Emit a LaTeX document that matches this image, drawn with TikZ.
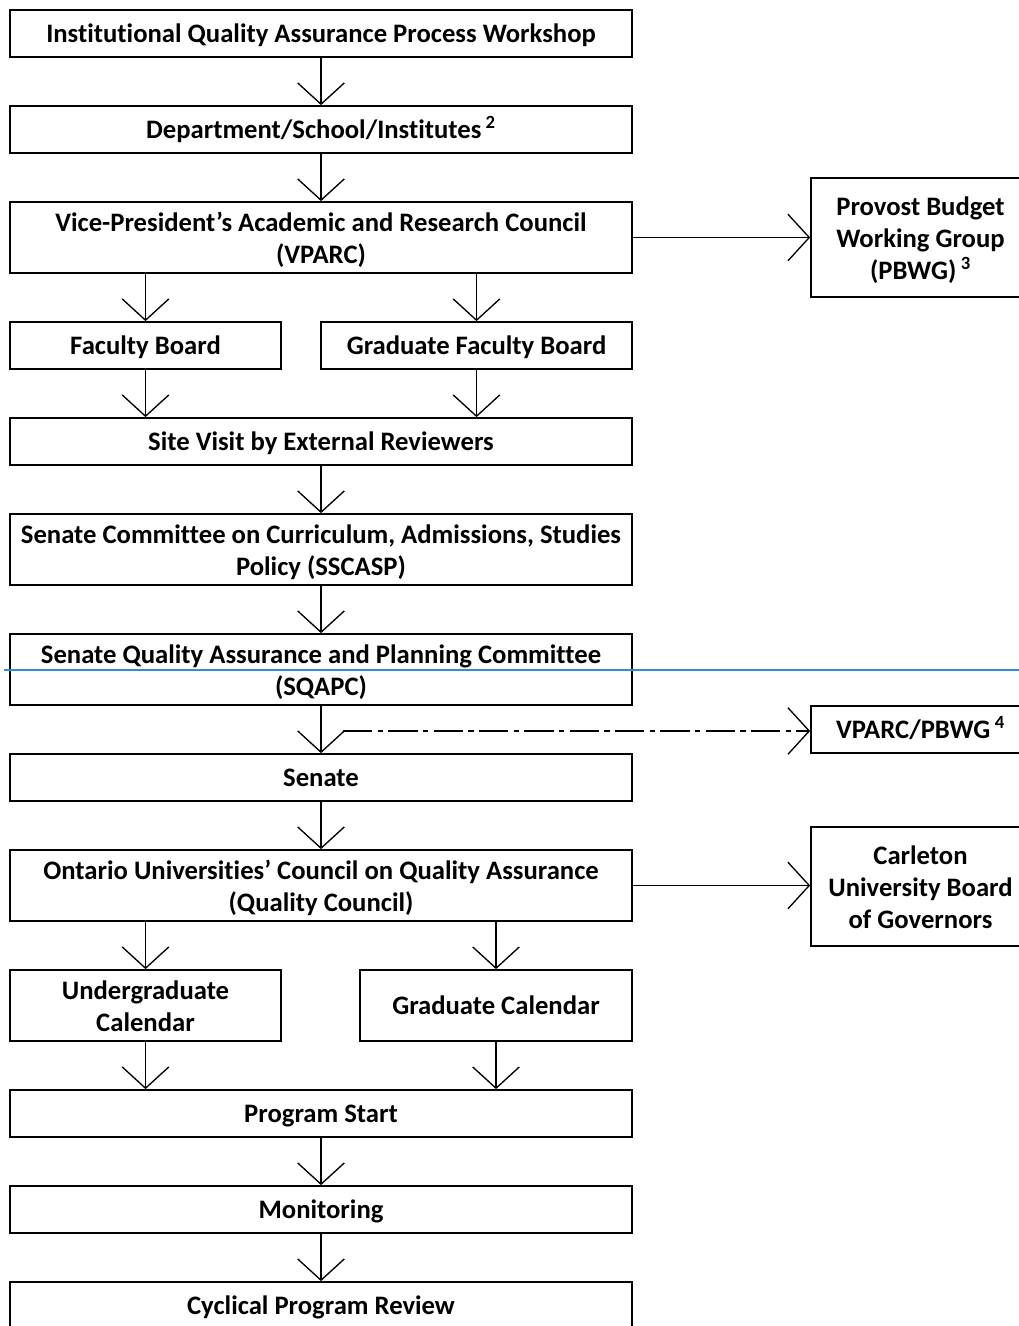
\documentclass[tikz,border=0pt]{standalone}
\usepackage{fontspec}
\setmainfont{Carlito}[Ligatures=NoCommon]
\usetikzlibrary{arrows.meta}
\newcommand\firstup{\rule{0pt}{21pt}}
\begin{document}
\begin{tikzpicture}[x=0.75pt,y=-0.75pt,
  box/.style={draw, line width=1.3pt, inner sep=0pt, align=center,
    font=\bfseries\fontsize{20pt}{24pt}\selectfont,
    execute at begin node={\rule{0pt}{19pt}},
    execute at end node={\rule[-5.4pt]{0pt}{0pt}}},
  arr/.style={line width=1.2pt, -{Straight Barb[length=16pt,width=35pt,line width=1pt]}},
  dd/.style={arr, dash pattern=on 22pt off 4pt on 4pt off 4pt}]
\useasboundingbox (0,0) rectangle (1019,1326);
\begin{scope}
\clip (0,0) rectangle (1019,1326);
\node[box, minimum width=622*0.75pt, minimum height=47*0.75pt] (ws) at (321,33.5) {Institutional Quality Assurance Process Workshop};
\node[box, minimum width=622*0.75pt, minimum height=47*0.75pt] (dept) at (321,129.5) {Department/School/Institutes\,\textsuperscript{2}};
\node[box, minimum width=622*0.75pt, minimum height=71*0.75pt] (vparc) at (321,237.5) {\firstup Vice-President’s Academic and Research Council\\(VPARC)};
\node[box, minimum width=219*0.75pt, minimum height=119*0.75pt] (pbwg) at (920.5,237.5) {\firstup Provost Budget\\Working Group\\(PBWG)\,\textsuperscript{3}};
\node[box, minimum width=271*0.75pt, minimum height=47*0.75pt] (fb) at (145.5,345.5) {Faculty Board};
\node[box, minimum width=311*0.75pt, minimum height=47*0.75pt] (gfb) at (476.5,345.5) {Graduate Faculty Board};
\node[box, minimum width=622*0.75pt, minimum height=47*0.75pt] (site) at (321,441.5) {Site Visit by External Reviewers};
\node[box, minimum width=622*0.75pt, minimum height=71*0.75pt] (sscasp) at (321,549.5) {\firstup Senate Committee on Curriculum, Admissions, Studies\\Policy (SSCASP)};
\node[box, minimum width=622*0.75pt, minimum height=71*0.75pt] (sqapc) at (321,669.5) {\firstup Senate Quality Assurance and Planning Committee\\(SQAPC)};
\node[box, minimum width=219*0.75pt, minimum height=47*0.75pt] (vp) at (920.5,729.5) {VPARC/PBWG\,\textsuperscript{4}};
\node[box, minimum width=622*0.75pt, minimum height=47*0.75pt] (senate) at (321,777.5) {Senate};
\node[box, minimum width=622*0.75pt, minimum height=71*0.75pt] (oucqa) at (321,885.5) {\firstup Ontario Universities’ Council on Quality Assurance\\(Quality Council)};
\node[box, minimum width=219*0.75pt, minimum height=119*0.75pt] (cub) at (920.5,886.5) {\firstup Carleton\\University Board\\of Governors};
\node[box, minimum width=271*0.75pt, minimum height=71*0.75pt] (ug) at (145.5,1005.5) {\firstup Undergraduate\\Calendar};
\node[box, minimum width=272*0.75pt, minimum height=71*0.75pt] (gc) at (496,1005.5) {Graduate Calendar};
\node[box, minimum width=622*0.75pt, minimum height=47*0.75pt] (ps) at (321,1113.5) {Program Start};
\node[box, minimum width=622*0.75pt, minimum height=47*0.75pt] (mon) at (321,1209.5) {Monitoring};
\node[box, minimum width=622*0.75pt, minimum height=47*0.75pt] (cyc) at (321,1305.5) {Cyclical Program Review};

\draw[arr] (ws) -- (dept);
\draw[arr] (dept) -- (vparc);
\draw[arr] (vparc.east) -- (vparc.east -| pbwg.west);
\draw[arr] (vparc.south -| fb.north) -- (fb.north);
\draw[arr] (vparc.south -| gfb.north) -- (gfb.north);
\draw[arr] (fb.south) -- (site.north -| fb.south);
\draw[arr] (gfb.south) -- (site.north -| gfb.south);
\draw[arr] (site) -- (sscasp);
\draw[arr] (sscasp) -- (sqapc);
\draw[arr] (sqapc) -- (senate);
\coordinate (dstart) at (343,731);
\draw[dd] (dstart) -- (dstart -| vp.west);
\draw[arr] (senate) -- (oucqa);
\draw[arr] (oucqa.east) -- (oucqa.east -| cub.west);
\draw[arr] (oucqa.south -| ug.north) -- (ug.north);
\draw[arr] (oucqa.south -| gc.north) -- (gc.north);
\draw[arr] (ug.south) -- (ps.north -| ug.south);
\draw[arr] (gc.south) -- (ps.north -| gc.south);
\draw[arr] (ps) -- (mon);
\draw[arr] (mon) -- (cyc);
\draw[line width=1.5pt, color={rgb,255:red,46;green,143;blue,208}] (4,670) -- (1019,670);
\end{scope}
\end{tikzpicture}
\end{document}
